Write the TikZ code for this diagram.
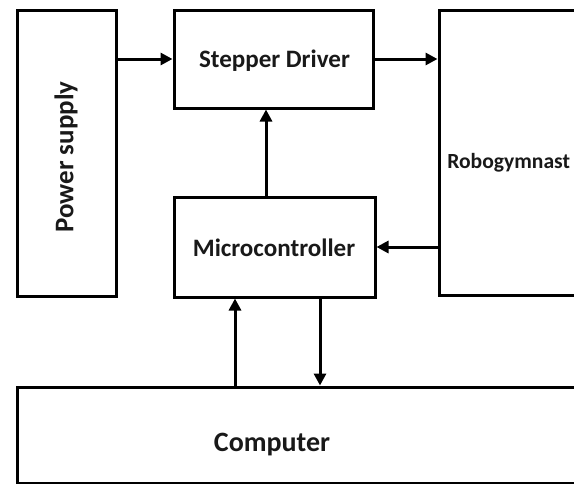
\documentclass[tikz,border=0pt]{standalone}
\usepackage{fontspec}
\setmainfont{Carlito}
\usetikzlibrary{arrows.meta}
\tikzset{
  blk/.style={draw=black, line width=2.25pt, fill=none, inner sep=0pt},
  lbl/.style={font=\bfseries, text=black!90, inner sep=0pt},
  conn/.style={line width=2.25pt, -{Triangle[length=9pt,width=9pt]}},
}
\begin{document}
\begin{tikzpicture}[x=0.75pt,y=-0.75pt]
\useasboundingbox (0,0) rectangle (574,483);
\clip (0,0) rectangle (574,483);
\fill[white] (0,0) rectangle (574,483);
% blocks
\node[blk, minimum width=74.25pt, minimum height=214.5pt] (ps) at (66.5,153) {};
\node[lbl, rotate=90, font=\bfseries\fontsize{20.2}{22}\selectfont] (pslbl) at (66,157) {Power supply};
\node[blk, minimum width=149.25pt, minimum height=73.5pt] (sd) at (273.5,59) {};
\node[lbl, font=\bfseries\fontsize{18.8}{20}\selectfont] (sdlbl) at (274.5,61) {Stepper Driver};
\node[blk, minimum width=150.75pt, minimum height=75pt] (mc) at (274.5,247) {};
\node[lbl, font=\bfseries\fontsize{18.8}{20}\selectfont] (mclbl) at (274,248) {Microcontroller};
\node[blk, minimum width=210.75pt, minimum height=213.75pt] (rg) at (579.5,152.5) {};
\node[lbl, anchor=west, font=\bfseries\fontsize{16.2}{20}\selectfont] (rglbl) at (447,163) {Robogymnast};
\node[blk, minimum width=512.25pt, minimum height=72.375pt] (cp) at (358.5,435.25) {};
\node[lbl, font=\bfseries\fontsize{21}{24}\selectfont] (cplbl) at (272,445) {Computer};
% connectors
\draw[conn] (sd.west -| ps.east) -- (sd.west);
\draw[conn] (sd.east) -- (sd.east -| rg.west);
\draw[conn] (mc.north -| 266,0) -- (sd.south -| 266,0);
\draw[conn] (mc.east -| rg.west) -- (mc.east);
\draw[conn] (cp.north -| 235,0) -- (mc.south -| 235,0);
\draw[conn] (mc.south -| 320,0) -- (cp.north -| 320,0);
\end{tikzpicture}
\end{document}
